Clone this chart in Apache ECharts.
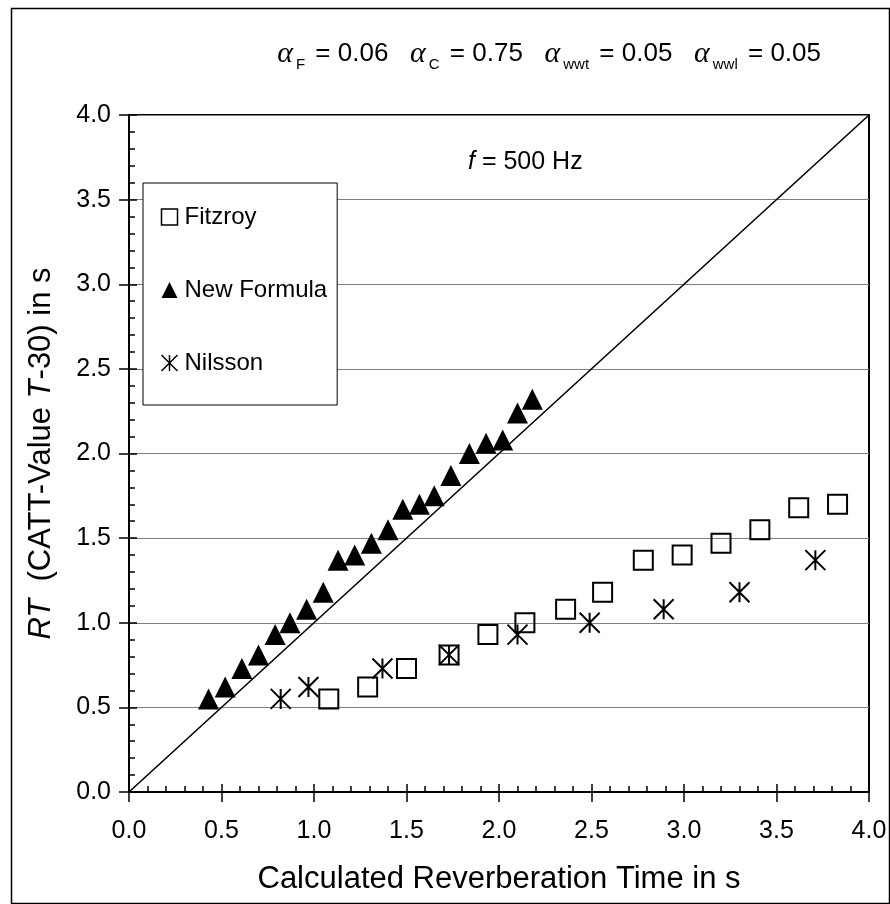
<!DOCTYPE html>
<html>
<head>
<meta charset="utf-8">
<script src="https://cdn.jsdelivr.net/npm/echarts@6/dist/echarts.min.js"></script>
<style>
html,body{margin:0;padding:0;background:#fff;}
#chart{width:890px;height:904px;}
</style>
</head>
<body>
<div id="chart"></div>
<script>
// ---- data ----
var seriesNames = ['Fitzroy', 'New Formula', 'Nilsson'];
var fitzX = [1.08, 1.29, 1.50, 1.73, 1.94, 2.14, 2.36, 2.56, 2.78, 2.99, 3.20, 3.41, 3.62, 3.83];
var fitzY = [0.55, 0.62, 0.73, 0.81, 0.93, 1.00, 1.08, 1.18, 1.37, 1.40, 1.47, 1.55, 1.68, 1.70];
var newX = [0.43, 0.52, 0.61, 0.70, 0.79, 0.87, 0.96, 1.05, 1.13, 1.22, 1.31, 1.40, 1.48, 1.57, 1.65, 1.74, 1.84, 1.93, 2.02, 2.10, 2.18];
var newY = [0.55, 0.62, 0.73, 0.81, 0.93, 1.00, 1.08, 1.18, 1.37, 1.40, 1.47, 1.55, 1.67, 1.70, 1.75, 1.87, 2.00, 2.06, 2.08, 2.24, 2.32];
var nilX = [0.82, 0.97, 1.37, 1.73, 2.10, 2.49, 2.89, 3.30, 3.71];
var nilY = [0.55, 0.62, 0.73, 0.81, 0.93, 1.00, 1.08, 1.18, 1.37];
var refLineX = [0, 4];
var refLineY = [0, 4];
var axisMin = 0, axisMax = 4, axisStep = 0.5;

function pairs(xs, ys) { return xs.map(function (x, i) { return [x, ys[i]]; }); }

var FONT = '"Liberation Sans", Arial, sans-serif';
var SERIF = '"Liberation Serif", "DejaVu Serif", serif';
var starPath = 'path://M10,0 L10,20 M0,0 L20,20 M0,20 L20,0';

var chart = echarts.init(document.getElementById('chart'), null, { renderer: 'canvas' });

var baseAxis = { min: axisMin, max: axisMax, interval: axisStep };

var option = {
  backgroundColor: '#fff',
  animation: false,
  title: [
    {
      right: 64, top: 31,
      text: '{a|α}{s|F}{t| = 0.06   }{a|α}{s|C}{t| = 0.75   }{a|α}{s|wwt}{t| = 0.05   }{a|α}{s|wwl}{t| = 0.05}',
      textStyle: {
        fontWeight: 'normal',
        rich: {
          a: { fontFamily: SERIF, fontStyle: 'italic', fontWeight: 'normal', fontSize: 30, color: '#000', lineHeight: 36 },
          s: { fontFamily: FONT, fontWeight: 'normal', fontSize: 15, color: '#000', verticalAlign: 'bottom', padding: [0, 3, 0, 3], lineHeight: 32 },
          t: { fontFamily: FONT, fontWeight: 'normal', fontSize: 26, color: '#000', lineHeight: 36 }
        }
      }
    },
    {
      left: 463, top: 145,
      text: '{i|f}{t| = 500 Hz}',
      textStyle: {
        fontWeight: 'normal',
        rich: {
          i: { fontFamily: FONT, fontStyle: 'italic', fontWeight: 'normal', fontSize: 25, color: '#000' },
          t: { fontFamily: FONT, fontWeight: 'normal', fontSize: 25, color: '#000' }
        }
      }
    }
  ],
  graphic: [
    {
      type: 'rect', left: 9, top: 6, z: -10, silent: true,
      shape: { width: 878, height: 895 },
      style: { fill: 'none', stroke: '#000', lineWidth: 1.5 }
    }
  ],
  legend: {
    orient: 'vertical',
    left: 143, top: 183,
    padding: [20, 10, 28, 16],
    itemGap: 45,
    itemWidth: 16, itemHeight: 16,
    backgroundColor: '#fff',
    borderColor: '#000', borderWidth: 1,
    borderRadius: 0,
    textStyle: { fontFamily: FONT, fontSize: 24, color: '#000', lineHeight: 28, padding: [0, 0, 0, 2] },
    data: [
      { name: 'Fitzroy', icon: 'rect', itemStyle: { color: 'none', borderColor: '#000', borderWidth: 1.5 } },
      { name: 'New Formula', icon: 'triangle', itemStyle: { color: '#000', borderWidth: 0 } },
      { name: 'Nilsson', icon: starPath, itemStyle: { color: 'none', borderColor: '#000', borderWidth: 1.5 } }
    ]
  },
  grid: {
    left: 129, right: 21, top: 115, bottom: 112,
    show: true, borderColor: '#000', borderWidth: 2, backgroundColor: '#fff'
  },
  xAxis: [
    Object.assign({}, baseAxis, {
      type: 'value', position: 'bottom',
      name: 'Calculated Reverberation Time in s',
      nameLocation: 'middle', nameGap: 72,
      nameTextStyle: { fontFamily: FONT, fontSize: 31, color: '#000' },
      axisLine: { show: true, onZero: false, lineStyle: { color: '#000', width: 2 } },
      axisTick: { show: true, inside: false, length: 10, lineStyle: { color: '#000', width: 1.5 } },
      axisLabel: { fontFamily: FONT, fontSize: 25, color: '#000', margin: 27, formatter: function (v) { return v.toFixed(1); } },
      splitLine: { show: false }
    }),
    Object.assign({}, baseAxis, {
      type: 'value', position: 'bottom',
      axisLine: { show: false, onZero: false },
      axisTick: { show: true, inside: true, length: 8, lineStyle: { color: '#000', width: 1.5 } },
      minorTick: { show: true, splitNumber: 5, length: 6, lineStyle: { color: '#000', width: 1.5 } },
      axisLabel: { show: false },
      splitLine: { show: false }
    })
  ],
  yAxis: [
    Object.assign({}, baseAxis, {
      type: 'value', position: 'left',
      name: '{i|RT}{t|  (CATT-Value }{i|T}{t|-30) in s}',
      nameLocation: 'middle', nameGap: 72,
      nameTextStyle: {
        rich: {
          i: { fontFamily: FONT, fontStyle: 'italic', fontSize: 31, color: '#000' },
          t: { fontFamily: FONT, fontSize: 31, color: '#000' }
        }
      },
      axisLine: { show: true, onZero: false, lineStyle: { color: '#000', width: 2 } },
      axisTick: { show: true, inside: false, length: 10, lineStyle: { color: '#000', width: 1.5 } },
      axisLabel: { fontFamily: FONT, fontSize: 25, color: '#000', margin: 18, formatter: function (v) { return v.toFixed(1); } },
      splitLine: { show: true, lineStyle: { color: '#808080', width: 1.2 } }
    }),
    Object.assign({}, baseAxis, {
      type: 'value', position: 'left',
      axisLine: { show: false, onZero: false },
      axisTick: { show: true, inside: true, length: 8, lineStyle: { color: '#000', width: 1.5 } },
      minorTick: { show: true, splitNumber: 5, length: 6, lineStyle: { color: '#000', width: 1.5 } },
      axisLabel: { show: false },
      splitLine: { show: false }
    })
  ],
  series: [
    {
      name: 'reference', type: 'line', xAxisIndex: 0, yAxisIndex: 0,
      data: pairs(refLineX, refLineY), symbol: 'none', silent: true,
      lineStyle: { color: '#000', width: 1.6 }, z: 1
    },
    {
      name: seriesNames[0], type: 'scatter', xAxisIndex: 0, yAxisIndex: 0,
      data: pairs(fitzX, fitzY), symbol: 'rect', symbolSize: 19,
      itemStyle: { color: 'none', borderColor: '#000', borderWidth: 2, opacity: 1 }, z: 3
    },
    {
      name: seriesNames[1], type: 'scatter', xAxisIndex: 0, yAxisIndex: 0,
      data: pairs(newX, newY), symbol: 'triangle', symbolSize: 21,
      itemStyle: { color: '#000', opacity: 1 }, z: 3
    },
    {
      name: seriesNames[2], type: 'scatter', xAxisIndex: 0, yAxisIndex: 0,
      data: pairs(nilX, nilY), symbol: starPath, symbolSize: 20,
      itemStyle: { color: 'none', borderColor: '#000', borderWidth: 2, opacity: 1 }, z: 3
    }
  ]
};
chart.setOption(option);
</script>
</body>
</html>
